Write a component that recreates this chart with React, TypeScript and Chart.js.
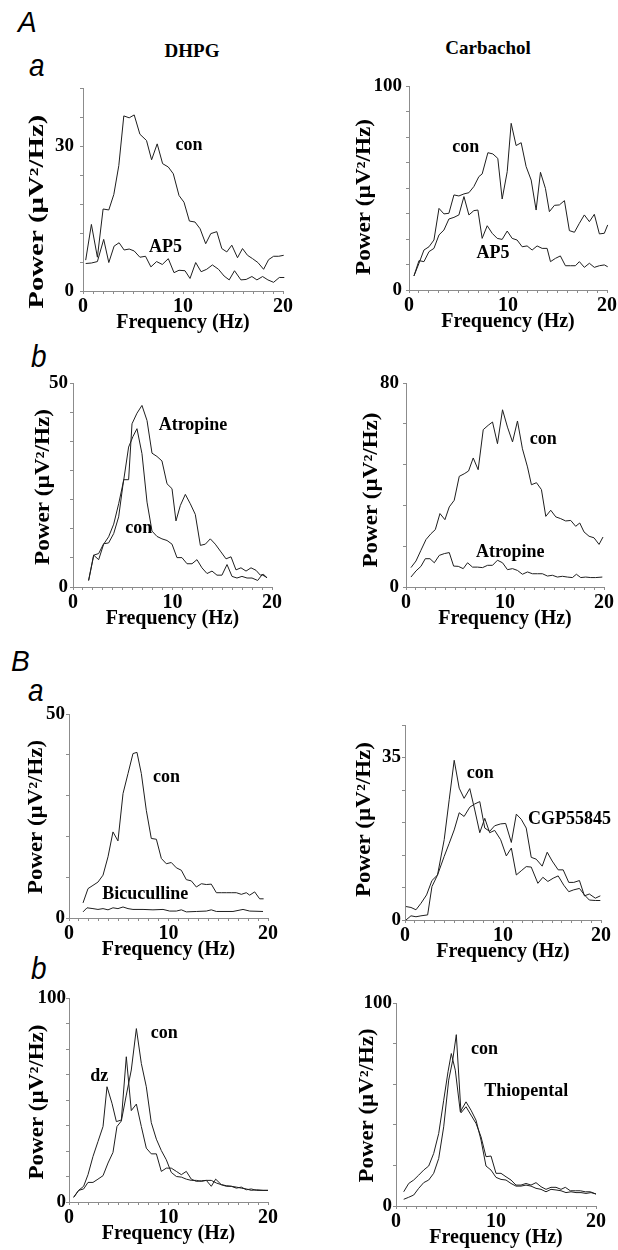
import React, { useEffect, useRef } from 'react';
import { Chart, registerables } from 'chart.js';

Chart.register(...registerables);

const SERIF = '"Liberation Serif", "Times New Roman", serif';
const SANS = '"Liberation Sans", Arial, sans-serif';

// ---------- Data ----------
const xTicks = [0, 1, 2, 3, 4, 5, 6, 7, 8, 9, 10, 11, 12, 13, 14, 15, 16, 17, 18, 19, 20];
const xTickLabels = [0, 10, 20];

// A a  DHPG
const aaCon = [[0.27,6.4],[0.84,13.8],[1.44,7.0],[2.01,17.0],[2.58,16.8],[3.08,20.0],[3.58,26.0],[4.08,36.3],[4.62,35.9],[5.12,36.5],[5.69,32.5],[6.35,31.2],[6.86,27.2],[7.42,30.5],[7.96,26.4],[8.53,25.7],[9.03,24.3],[9.60,19.8],[10.10,18.4],[10.64,14.5],[11.20,14.3],[11.71,12.9],[12.27,9.8],[12.78,11.9],[13.38,12.3],[13.88,8.8],[14.38,8.1],[14.88,9.5],[15.45,6.9],[15.95,8.8],[16.45,7.4],[16.96,6.7],[17.49,5.9],[18.06,4.5],[18.56,6.5],[19.06,7.2],[19.57,7.2],[20.07,7.4],[20.57,8.8]];
const aaAP5 = [[0.27,5.7],[0.84,5.8],[1.44,6.1],[2.07,10.7],[2.58,5.9],[3.11,9.3],[3.61,10.0],[4.11,8.5],[4.62,8.7],[5.12,8.3],[5.69,7.0],[6.25,7.2],[6.79,5.0],[7.36,6.1],[7.93,5.5],[8.53,6.7],[9.10,3.8],[9.60,4.3],[10.20,4.2],[10.70,2.6],[11.27,5.9],[11.81,4.0],[12.37,4.5],[12.94,5.4],[13.55,4.5],[14.11,3.1],[14.62,2.3],[15.15,4.2],[15.79,2.3],[16.32,2.4],[16.89,3.0],[17.39,2.3],[17.96,3.0],[18.49,2.3],[19.06,1.8],[19.63,2.8],[20.13,2.8],[20.57,2.1]];
const aaYTicks = [0, 6, 12, 18, 24, 30, 36, 42];
const aaYLabels = [0, 30];

// A a  Carbachol
const acCon = [[0.50,6.9],[1.01,13.1],[1.51,19.6],[2.02,21.2],[2.52,24.5],[3.03,40.0],[3.53,37.3],[4.03,37.6],[4.54,46.6],[5.04,46.1],[5.55,47.1],[6.05,47.7],[6.55,50.7],[7.06,55.6],[7.39,56.9],[7.97,67.3],[8.47,66.7],[8.97,64.5],[9.41,44.6],[9.92,58.0],[10.32,81.7],[10.82,70.8],[11.33,72.2],[11.83,60.5],[12.34,53.9],[12.84,39.2],[13.28,57.7],[13.78,49.8],[14.18,38.4],[14.69,41.5],[15.19,41.7],[15.70,43.8],[16.20,29.1],[16.71,28.3],[17.21,32.7],[17.71,36.8],[18.22,33.5],[18.72,37.1],[19.23,27.5],[19.73,27.8],[20.07,31.9]];
const acAP5 = [[0.50,6.9],[1.01,14.4],[1.51,13.9],[2.02,18.8],[2.52,20.4],[3.03,27.0],[3.53,29.4],[4.03,34.8],[4.54,35.6],[5.04,36.8],[5.55,45.8],[6.05,36.8],[6.55,38.9],[6.96,39.2],[7.39,25.3],[7.90,31.5],[8.40,27.8],[8.91,25.3],[9.41,24.8],[9.92,28.9],[10.42,25.3],[10.92,24.5],[11.43,21.2],[11.93,21.6],[12.44,19.6],[12.94,21.6],[13.45,20.4],[13.95,20.4],[14.29,13.9],[14.79,15.5],[15.29,16.7],[15.80,11.9],[16.30,11.9],[16.81,11.9],[17.21,13.9],[17.71,11.1],[18.22,13.1],[18.72,11.1],[19.23,11.9],[19.73,12.3],[20.07,11.4]];
const acYTicks = [0, 12.5, 25, 37.5, 50, 62.5, 75, 87.5, 100];
const acYLabels = [0, 100];

// A b  DHPG
const abCon = [[1.57,1.6],[2.08,7.8],[2.58,6.7],[3.08,10.5],[3.58,12.3],[4.09,15.4],[4.59,20.4],[5.09,26.1],[5.59,34.3],[6.03,36.9],[6.43,38.8],[6.93,32.7],[7.44,20.8],[7.94,13.7],[8.44,12.4],[8.94,11.8],[9.45,11.4],[9.95,10.5],[10.45,7.2],[10.95,7.2],[11.46,5.7],[11.96,5.7],[12.46,6.7],[12.96,4.7],[13.47,3.3],[13.97,3.9],[14.47,2.9],[14.97,2.9],[15.48,5.5],[15.98,2.6],[16.48,2.2],[16.98,2.6],[17.49,2.2],[17.99,2.2],[18.56,1.6],[19.00,3.0],[19.50,2.3]];
const abAtr = [[1.57,1.6],[2.08,7.8],[2.58,8.2],[3.08,10.6],[3.58,10.8],[4.09,13.1],[4.59,17.2],[5.09,26.3],[5.59,26.3],[5.93,40.0],[6.43,42.6],[6.93,44.5],[7.44,40.8],[7.94,32.8],[8.44,32.0],[8.94,30.9],[9.45,25.3],[9.95,24.1],[10.35,16.2],[10.79,20.0],[11.29,22.7],[11.79,20.4],[12.29,17.8],[12.80,10.2],[13.30,10.5],[13.80,11.8],[14.30,10.5],[14.81,8.8],[15.38,6.9],[15.88,7.4],[16.38,4.2],[16.88,4.7],[17.39,3.9],[17.89,4.7],[18.39,4.1],[18.83,2.9],[19.16,3.1],[19.50,2.2]];
const abYTicks = [0, 7.14, 14.29, 21.43, 28.57, 35.71, 42.86, 50];
const abYLabels = [0, 50];

// A b  Carbachol
const abrCon = [[0.50,7.6],[1.01,10.2],[1.51,14.4],[2.02,18.6],[2.52,20.9],[2.96,22.5],[3.43,28.8],[3.93,26.4],[4.37,31.4],[4.87,34.0],[5.38,43.4],[5.88,44.4],[6.32,45.5],[6.79,50.6],[7.29,46.0],[7.80,61.7],[8.30,63.4],[8.74,64.7],[9.24,56.2],[9.75,69.5],[10.25,62.7],[10.76,56.9],[11.26,65.1],[11.76,54.2],[12.27,47.1],[12.67,40.1],[13.18,40.9],[13.68,38.2],[14.12,27.7],[14.62,30.1],[15.13,27.5],[15.63,26.8],[16.13,25.9],[16.64,26.1],[17.14,23.8],[17.55,25.1],[17.98,21.6],[18.49,19.9],[18.99,19.3],[19.50,16.7],[19.90,19.6]];
const abrAtr = [[0.50,3.9],[1.01,6.3],[1.51,8.1],[1.95,11.1],[2.42,11.1],[2.86,9.5],[3.36,12.4],[3.87,13.1],[4.37,13.5],[4.81,8.2],[5.28,8.1],[5.78,7.2],[6.22,9.5],[6.72,7.8],[7.23,7.8],[7.73,7.6],[8.24,8.5],[8.74,8.5],[9.24,10.5],[9.75,9.5],[10.25,6.8],[10.76,7.2],[11.26,6.5],[11.76,5.0],[12.27,5.9],[12.77,5.2],[13.28,5.2],[13.78,5.2],[14.29,4.3],[14.79,4.6],[15.29,3.9],[15.80,4.2],[16.30,3.9],[16.81,3.7],[17.21,5.0],[17.65,3.7],[18.15,3.9],[18.66,3.7],[19.16,3.7],[19.83,3.9]];
const abrYTicks = [0, 16, 32, 48, 64, 80];
const abrYLabels = [0, 80];

// B a  DHPG
const baCon = [[1.41,3.7],[1.91,7.2],[2.41,8.0],[2.91,8.8],[3.42,10.5],[3.92,15.0],[4.42,21.1],[4.92,18.9],[5.43,30.5],[5.93,35.4],[6.43,40.3],[6.83,40.6],[7.27,35.4],[7.77,26.4],[8.27,19.5],[8.78,19.3],[9.28,14.6],[9.78,13.3],[10.28,13.6],[10.79,12.3],[11.29,11.7],[11.79,9.4],[12.29,9.1],[12.80,7.6],[13.30,8.4],[13.80,8.2],[14.30,8.3],[14.81,6.2],[15.31,6.2],[15.81,6.2],[16.31,6.2],[16.82,6.2],[17.32,5.8],[17.82,6.2],[18.16,5.6],[18.66,6.4],[19.16,4.7],[19.56,4.7]];
const baBic = [[1.41,1.5],[1.81,2.5],[2.41,2.3],[2.91,2.1],[3.42,2.3],[3.92,2.0],[4.42,2.5],[4.92,2.3],[5.43,2.7],[5.93,2.3],[6.43,2.1],[7.44,2.1],[8.44,2.0],[9.45,2.1],[10.12,1.7],[10.79,1.7],[11.29,2.0],[11.79,1.5],[12.80,1.6],[13.80,1.7],[14.30,2.0],[14.81,1.6],[16.48,1.6],[17.49,2.1],[18.16,1.7],[19.50,1.6]];
const baYTicks = [0, 10, 20, 30, 40, 50];
const baYLabels = [0, 50];

// B a  right
const barCon = [[0.10,0.0],[0.61,0.9],[1.12,0.7],[1.63,0.9],[2.31,1.1],[2.75,7.2],[3.32,9.7],[4.00,17.3],[4.51,25.9],[5.02,34.4],[5.53,28.4],[6.03,26.2],[6.61,28.3],[7.12,23.7],[7.63,18.8],[8.14,21.9],[8.64,18.8],[9.15,19.3],[9.76,17.3],[10.34,13.8],[10.85,15.5],[11.36,9.7],[11.86,10.6],[12.37,11.5],[12.88,11.4],[13.56,7.9],[14.07,9.2],[14.58,8.3],[15.12,9.0],[15.63,9.5],[16.20,7.5],[16.71,6.1],[17.22,6.5],[17.80,6.8],[18.31,5.4],[18.81,4.3],[19.42,4.2],[19.93,4.2]];
const barCGP = [[0.10,2.9],[0.61,2.7],[1.12,2.2],[1.63,3.6],[2.20,5.4],[2.75,8.5],[3.32,9.7],[4.00,13.7],[4.51,16.5],[5.02,19.4],[5.53,23.1],[6.03,22.3],[6.61,24.3],[7.12,25.0],[7.63,25.5],[8.14,19.8],[8.64,19.1],[9.15,20.3],[9.76,20.7],[10.27,20.8],[10.85,16.7],[11.36,22.8],[11.86,21.7],[12.37,19.8],[12.88,13.5],[13.39,13.1],[14.00,11.6],[14.51,14.6],[15.02,12.7],[15.63,10.8],[16.14,10.8],[16.71,8.1],[17.22,8.1],[17.80,8.5],[18.31,5.2],[18.81,5.6],[19.42,4.7],[19.93,5.2]];
const barYTicks = [0, 7, 14, 21, 28, 35, 42];
const barYLabels = [0, 35];

// B b  DHPG
const bbCon = [[0.47,2.3],[0.97,5.7],[1.47,6.4],[1.91,9.6],[2.41,9.6],[2.91,11.2],[3.42,12.9],[3.92,19.1],[4.42,24.3],[4.82,37.0],[5.26,39.7],[5.76,52.4],[6.26,64.7],[6.77,85.0],[7.27,67.9],[7.77,56.5],[8.27,38.9],[8.78,30.8],[9.28,25.2],[9.78,20.7],[10.28,14.5],[10.79,12.5],[11.29,12.2],[11.79,11.2],[12.29,10.6],[12.80,10.6],[13.30,10.1],[13.80,10.6],[14.30,10.6],[14.81,9.3],[15.31,8.5],[15.81,8.0],[16.31,7.7],[16.82,7.3],[17.32,6.8],[17.82,6.4],[18.32,5.7],[18.83,6.0],[19.50,5.7],[20.00,5.7]];
const bbDz = [[0.47,2.3],[0.97,5.7],[1.47,7.7],[1.91,13.4],[2.41,22.3],[2.91,29.6],[3.42,37.0],[3.82,56.5],[4.32,48.4],[4.76,39.4],[5.26,40.2],[5.76,71.2],[6.26,44.8],[6.77,48.0],[7.27,37.0],[7.77,26.4],[8.27,23.6],[8.78,23.6],[9.28,15.0],[9.78,16.6],[10.28,16.6],[10.79,15.0],[11.29,13.4],[11.79,15.0],[12.29,11.2],[12.80,10.1],[13.30,10.4],[13.80,10.6],[14.30,7.7],[14.74,11.2],[15.31,8.5],[15.81,7.7],[16.31,7.7],[16.82,6.8],[17.32,7.3],[17.82,6.0],[18.32,6.4],[18.83,5.7],[19.50,5.7],[20.00,5.7]];
const bbYTicks = [0, 12.5, 25, 37.5, 50, 62.5, 75, 87.5, 100];
const bbYLabels = [0, 100];

// B b  right
const bbrCon = [[0.77,3.3],[1.27,4.3],[1.77,5.4],[2.27,8.7],[2.77,11.5],[3.27,12.8],[3.77,16.1],[4.27,23.4],[4.77,39.0],[5.27,62.0],[5.67,71.8],[6.03,84.4],[6.50,45.9],[7.00,48.9],[7.50,44.8],[8.00,40.7],[8.50,34.1],[9.00,24.3],[9.50,24.6],[10.00,16.1],[10.50,16.1],[11.00,14.4],[11.50,12.8],[12.00,10.3],[12.50,10.3],[13.00,11.1],[13.50,10.3],[14.00,11.5],[14.50,9.5],[15.00,8.2],[15.50,9.2],[16.00,9.2],[16.50,8.2],[16.93,9.2],[17.43,7.5],[17.93,7.5],[18.43,7.5],[18.93,7.0],[19.43,7.0],[20.00,5.9]];
const bbrThio = [[0.77,7.0],[1.27,11.1],[1.77,12.8],[2.27,15.2],[2.77,17.7],[3.27,19.7],[3.77,25.9],[4.27,35.7],[4.77,52.1],[5.20,66.1],[5.53,75.1],[5.93,66.9],[6.43,46.4],[7.00,51.3],[7.50,47.2],[8.00,42.3],[8.50,32.5],[9.00,19.7],[9.50,17.7],[10.00,14.1],[10.50,13.1],[11.00,12.8],[11.50,11.1],[12.00,9.8],[12.50,9.8],[13.00,10.3],[13.50,9.8],[14.00,8.7],[14.50,8.2],[15.00,7.0],[15.50,8.2],[16.00,7.9],[16.50,7.5],[17.00,6.6],[17.50,7.0],[18.00,6.6],[18.50,6.6],[19.00,6.2],[19.50,6.6],[20.00,5.9]];
const bbrYTicks = [0, 20, 40, 60, 80, 100];
const bbrYLabels = [0, 100];

// ---------- Layout ----------
const Y_W = 64;
const PAD_TOP = 16;
const PAD_RIGHT = 16;
const X_H = 50;

type Label = { text: string; x: number; y: number };
type PanelCfg = {
  series: number[][][];
  labels: Label[];
  yTicks: number[];
  yLabels: number[];
  area: { left: number; top: number; right: number; bottom: number };
  yTitleOffset: number;
  yTitleShift: number;
  yTitleLen: number;
  yTickPad: number;
};

const panels: PanelCfg[] = [
  {
    series: [aaCon, aaAP5],
    labels: [{ text: 'con', x: 9.26, y: 30.1 }, { text: 'AP5', x: 6.59, y: 9.0 }],
    yTicks: aaYTicks, yLabels: aaYLabels,
    area: { left: 83, top: 87, right: 283, bottom: 291 },
    yTitleOffset: 45, yTitleShift: 22, yTitleLen: 194, yTickPad: 6,
  },
  {
    series: [acCon, acAP5],
    labels: [{ text: 'con', x: 4.37, y: 69.9 }, { text: 'AP5', x: 6.82, y: 18.0 }],
    yTicks: acYTicks, yLabels: acYLabels,
    area: { left: 409, top: 86, right: 607, bottom: 290 },
    yTitleOffset: 44, yTitleShift: 9, yTitleLen: 156, yTickPad: 4,
  },
  {
    series: [abCon, abAtr],
    labels: [{ text: 'Atropine', x: 8.61, y: 39.6 }, { text: 'con', x: 5.26, y: 14.4 }],
    yTicks: abYTicks, yLabels: abYLabels,
    area: { left: 73, top: 383, right: 272, bottom: 587 },
    yTitleOffset: 29, yTitleShift: 2, yTitleLen: 156, yTickPad: 2,
  },
  {
    series: [abrCon, abrAtr],
    labels: [{ text: 'con', x: 12.5, y: 57.9 }, { text: 'Atropine', x: 7.06, y: 13.7 }],
    yTicks: abrYTicks, yLabels: abrYLabels,
    area: { left: 406, top: 383, right: 604, bottom: 587 },
    yTitleOffset: 34, yTitleShift: 5, yTitleLen: 155, yTickPad: 4,
  },
  {
    series: [baCon, baBic],
    labels: [{ text: 'con', x: 8.44, y: 34.5 }, { text: 'Bicuculline', x: 3.35, y: 5.7 }],
    yTicks: baYTicks, yLabels: baYLabels,
    area: { left: 69, top: 714, right: 268, bottom: 918 },
    yTitleOffset: 32, yTitleShift: 1, yTitleLen: 154, yTickPad: 1,
  },
  {
    series: [barCon, barCGP],
    labels: [{ text: 'con', x: 6.31, y: 31.5 }, { text: 'CGP55845', x: 12.54, y: 21.7 }],
    yTicks: barYTicks, yLabels: barYLabels,
    area: { left: 405, top: 725, right: 601, bottom: 920 },
    yTitleOffset: 40, yTitleShift: -3, yTitleLen: 155, yTickPad: 1,
  },
  {
    series: [bbCon, bbDz],
    labels: [{ text: 'con', x: 8.21, y: 82.9 }, { text: 'dz', x: 2.14, y: 61.4 }],
    yTicks: bbYTicks, yLabels: bbYLabels,
    area: { left: 69, top: 998, right: 268, bottom: 1202 },
    yTitleOffset: 31, yTitleShift: 2, yTitleLen: 155, yTickPad: 0,
  },
  {
    series: [bbrCon, bbrThio],
    labels: [{ text: 'con', x: 7.5, y: 77.2 }, { text: 'Thiopental', x: 8.83, y: 56.6 }],
    yTicks: bbrYTicks, yLabels: bbrYLabels,
    area: { left: 396, top: 1003, right: 596, bottom: 1206 },
    yTitleOffset: 28, yTitleShift: 1, yTitleLen: 154, yTickPad: 1,
  },
];

const AXIS_GREY = '#8c8c8c';
const LINE_COLOR = '#1e1e1e';

const has = (arr: number[], v: number) => arr.some((a) => Math.abs(a - v) < 1e-6);

function PanelChart({ cfg }: { cfg: PanelCfg }) {
  const ref = useRef<HTMLCanvasElement | null>(null);
  const { area } = cfg;
  const w = Y_W + (area.right - area.left) + PAD_RIGHT;
  const h = PAD_TOP + (area.bottom - area.top) + X_H;

  useEffect(() => {
    if (!ref.current) return;
    const textPlugin = {
      id: 'panelText',
      afterDraw(chart: any) {
        const ctx = chart.ctx as CanvasRenderingContext2D;
        const ca = chart.chartArea;
        const xs = chart.scales.x;
        const ys = chart.scales.y;
        ctx.save();
        ctx.fillStyle = '#000';
        // y title (stretched along its length like the original figure)
        ctx.font = `bold 20px ${SERIF}`;
        const yt = 'Power (\u00b5V\u00b2/Hz)';
        const tw = ctx.measureText(yt).width;
        ctx.save();
        ctx.translate(ca.left - cfg.yTitleOffset, (ca.top + ca.bottom) / 2 + cfg.yTitleShift);
        ctx.rotate(-Math.PI / 2);
        ctx.scale(cfg.yTitleLen / tw, 1);
        ctx.textAlign = 'center';
        ctx.textBaseline = 'middle';
        ctx.fillText(yt, 0, 0);
        ctx.restore();
        // x title
        ctx.font = `bold 20px ${SERIF}`;
        ctx.textAlign = 'center';
        ctx.textBaseline = 'alphabetic';
        ctx.fillText('Frequency (Hz)', (ca.left + ca.right) / 2, ca.bottom + 37);
        // series labels
        ctx.font = `bold 18px ${SERIF}`;
        ctx.textAlign = 'left';
        ctx.textBaseline = 'middle';
        cfg.labels.forEach((l) => {
          ctx.fillText(l.text, xs.getPixelForValue(l.x), ys.getPixelForValue(l.y));
        });
        ctx.restore();
      },
    };

    const chart = new Chart(ref.current, {
      type: 'line',
      data: {
        datasets: cfg.series.map((s) => ({
          data: s.map(([x, y]) => ({ x, y })),
          borderColor: LINE_COLOR,
          borderWidth: 1,
          pointRadius: 0,
          tension: 0,
          fill: false,
          clip: false as any,
        })),
      },
      options: {
        animation: false,
        responsive: false,
        maintainAspectRatio: false,
        layout: { padding: { top: PAD_TOP, right: PAD_RIGHT, left: 0, bottom: 0 } },
        plugins: { legend: { display: false }, tooltip: { enabled: false } },
        scales: {
          x: {
            type: 'linear',
            min: 0,
            max: 20,
            afterBuildTicks: (s: any) => {
              s.ticks = xTicks.map((v) => ({ value: v }));
            },
            afterFit: (s: any) => {
              s.height = X_H;
            },
            grid: { display: true, drawOnChartArea: false, drawTicks: true, tickLength: 3, color: AXIS_GREY },
            border: { display: true, color: AXIS_GREY, width: 1 },
            ticks: {
              autoSkip: false,
              maxRotation: 0,
              padding: 1,
              color: '#000',
              font: { family: SERIF, size: 20, weight: 'bold' },
              callback: (v: any) => (has(xTickLabels, Number(v)) ? String(v) : ''),
            },
          },
          y: {
            type: 'linear',
            min: 0,
            max: cfg.yTicks[cfg.yTicks.length - 1],
            afterBuildTicks: (s: any) => {
              s.ticks = cfg.yTicks.map((v) => ({ value: v }));
            },
            afterFit: (s: any) => {
              s.width = Y_W;
            },
            grid: { display: true, drawOnChartArea: false, drawTicks: true, tickLength: 3, color: AXIS_GREY },
            border: { display: true, color: AXIS_GREY, width: 1 },
            ticks: {
              autoSkip: false,
              padding: cfg.yTickPad,
              color: '#000',
              font: { family: SERIF, size: 19, weight: 'bold' },
              callback: (v: any) => (has(cfg.yLabels, Number(v)) ? String(v) : ''),
            },
          },
        },
      } as any,
      plugins: [textPlugin],
    });
    return () => chart.destroy();
  }, []);

  return (
    <div
      style={{
        position: 'absolute',
        left: area.left - Y_W,
        top: area.top - PAD_TOP,
        width: w,
        height: h,
      }}
    >
      <canvas ref={ref} width={w} height={h} style={{ width: w, height: h, display: 'block' }} />
    </div>
  );
}

function Txt({
  text, left, baseline, size, sans, italic, center, stretchY,
}: {
  text: string; left: number; baseline: number; size: number; sans?: boolean; italic?: boolean; center?: boolean; stretchY?: number;
}) {
  const asc = sans ? 0.8465 : 0.8375;
  const transforms: string[] = [];
  if (center) transforms.push('translateX(-50%)');
  if (stretchY) transforms.push(`scaleY(${stretchY})`);
  return (
    <div
      style={{
        position: 'absolute',
        left,
        top: baseline - asc * size,
        fontFamily: sans ? SANS : SERIF,
        fontWeight: sans ? 'normal' : 'bold',
        fontStyle: italic ? 'italic' : 'normal',
        fontSize: size,
        lineHeight: 1,
        whiteSpace: 'nowrap',
        color: '#000',
        transform: transforms.length ? transforms.join(' ') : undefined,
        transformOrigin: `0 ${asc * size}px`,
      }}
    >
      {text}
    </div>
  );
}

export default function App() {
  return (
    <div
      style={{
        position: 'absolute',
        left: 0,
        top: 0,
        width: 618,
        height: 1250,
        overflow: 'hidden',
        background: '#fff',
      }}
    >
      <Txt text="A" left={18} baseline={33} size={28} sans italic stretchY={1.05} />
      <Txt text="DHPG" left={192} baseline={57} size={19} center />
      <Txt text="Carbachol" left={488} baseline={54} size={19} center />
      <Txt text="a" left={29} baseline={77} size={28} sans italic stretchY={1.15} />
      <Txt text="b" left={31} baseline={368} size={28} sans italic stretchY={1.1} />
      <Txt text="B" left={11} baseline={672} size={28} sans italic stretchY={1.05} />
      <Txt text="a" left={28} baseline={702} size={28} sans italic stretchY={1.15} />
      <Txt text="b" left={31} baseline={980} size={28} sans italic stretchY={1.1} />
      {panels.map((p, i) => (
        <PanelChart key={i} cfg={p} />
      ))}
    </div>
  );
}
